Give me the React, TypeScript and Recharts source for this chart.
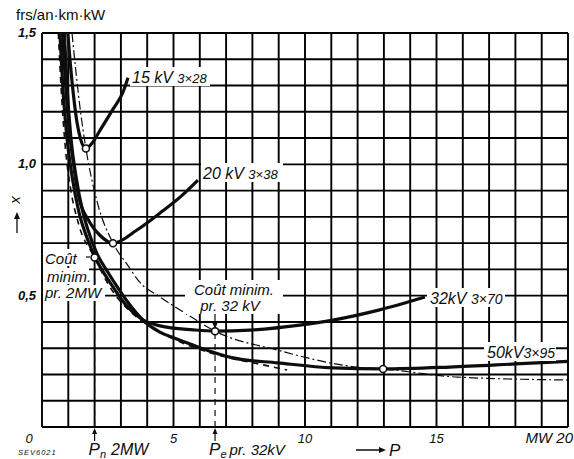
import React from "react";
import {
  LineChart,
  Line,
  XAxis,
  YAxis,
  CartesianGrid,
  ReferenceDot,
  ReferenceLine,
} from "recharts";

// P in MW, cost x in frs/an·km·kW
const P_15KV = [0.98, 1.08, 1.2, 1.33, 1.47, 1.67, 1.9, 2.21, 2.7, 3.08, 3.27];
const X_15KV = [1.5, 1.38, 1.26, 1.16, 1.095, 1.06, 1.08, 1.13, 1.21, 1.275, 1.33];

const P_20KV = [0.78, 0.9, 1.05, 1.2, 1.37, 1.83, 2.2, 2.7, 3.61, 4.49, 5.25, 5.93];
const X_20KV = [1.5, 1.3, 1.12, 1.0, 0.89, 0.777, 0.73, 0.7, 0.75, 0.815, 0.875, 0.94];

const P_32KV = [0.68, 0.8, 0.95, 1.15, 1.4, 1.75, 2.1, 2.59, 3.23, 3.73, 3.99, 4.49, 5.74, 6.58, 7.9, 9.8, 11.06, 12.8, 14.56];
const X_32KV = [1.5, 1.28, 1.1, 0.95, 0.82, 0.71, 0.63, 0.55, 0.46, 0.415, 0.4, 0.385, 0.37, 0.365, 0.369, 0.388, 0.407, 0.445, 0.495];

const P_50KV = [0.85, 0.95, 1.1, 1.3, 1.55, 1.75, 2.09, 2.5, 2.85, 3.3, 3.84, 4.5, 5.0, 5.74, 6.5, 7.26, 8.97, 11.06, 12.97, 15.5, 18, 20];
const X_50KV = [1.5, 1.3, 1.1, 0.95, 0.82, 0.75, 0.66, 0.59, 0.535, 0.47, 0.407, 0.36, 0.34, 0.312, 0.285, 0.263, 0.244, 0.225, 0.221, 0.228, 0.24, 0.25];

// dashed: minimum cost envelope
const P_DASH = [0.62, 0.75, 0.9, 1.1, 1.4, 2.0, 2.6, 3.3, 4.0, 5.0, 6.0, 7.26, 7.9, 9.32];
const X_DASH = [1.5, 1.25, 1.05, 0.9, 0.77, 0.645, 0.53, 0.445, 0.39, 0.335, 0.295, 0.26, 0.247, 0.217];

// dash-dot: locus through the minima
const P_DOTDASH = [1.14, 1.44, 1.67, 2.09, 2.7, 3.23, 3.73, 4.49, 5.74, 6.58, 8.94, 11.98, 12.97, 15.8, 20];
const X_DOTDASH = [1.5, 1.22, 1.06, 0.86, 0.7, 0.62, 0.55, 0.495, 0.415, 0.365, 0.293, 0.228, 0.221, 0.19, 0.179];

const MIN_P = [1.67, 2.7, 6.58, 12.97];
const MIN_X = [1.06, 0.7, 0.365, 0.221];

const PN = 2; // P_n 2 MW
const PN_X = 0.645;
const PE = 6.58; // P_e pr. 32 kV
const PE_X = 0.365;

const X_LABEL_TICKS = [0, 5, 10, 15, 20];
const Y_LABEL_TICKS = [0.5, 1, 1.5];
const GRID_P = [0, 1, 2, 3, 4, 5, 6, 7, 8, 9, 10, 11, 12, 13, 14, 15, 16, 17, 18, 19, 20];
const GRID_X = [0, 0.1, 0.2, 0.3, 0.4, 0.5, 0.6, 0.7, 0.8, 0.9, 1.0, 1.1, 1.2, 1.3, 1.4, 1.5];

const rows = (ps: number[], xs: number[]) => ps.map((p, i) => ({ p, x: xs[i] }));

const INK = "#0d0d0d";
const FONT = "'Liberation Sans', Arial, sans-serif";
const PE_LINE_X = 215;

function XTick(props: any) {
  const { x, payload } = props;
  const v = payload.value;
  const t = { fontFamily: FONT, fontStyle: "italic", fill: INK } as const;
  if (v === PN || v === PE) {
    return (
      <g>
        <line x1={x} y1={431} x2={x} y2={441} stroke={INK} strokeWidth={1.2} />
        <polygon points={`${x - 2.5},${434} ${x + 2.5},${434} ${x},${428}`} fill={INK} />
        <text x={x - 6} y={455} fontSize={17} {...t}>
          P
          <tspan fontSize={11} dy={3}>{v === PN ? "n" : "e"}</tspan>
          <tspan fontSize={v === PN ? 16 : 15} dy={-3} dx={v === PN ? 5 : 3}>
            {v === PN ? "2MW" : "pr. 32kV"}
          </tspan>
        </text>
      </g>
    );
  }
  if (v === 0) {
    return <text x={x - 13} y={443} fontSize={13} textAnchor="middle" {...t}>0</text>;
  }
  if (v === 20) {
    return <text x={x + 5} y={443} fontSize={15} textAnchor="end" {...t}>MW 20</text>;
  }
  return <text x={x} y={443} fontSize={13} textAnchor="middle" {...t}>{v}</text>;
}

function YTick(props: any) {
  const { y, payload } = props;
  return (
    <text x={36} y={y + 4} fontSize={13} fontWeight="bold" textAnchor="end"
      fontFamily={FONT} fontStyle="italic" fill={INK}>
      {payload.value.toFixed(1).replace(".", ",")}
    </text>
  );
}

function Label({ x, y, w, h, children }: any) {
  return (
    <g>
      <rect x={x} y={y} width={w} height={h} fill="#fff" />
      {children}
    </g>
  );
}

export default function App() {
  const curveProps = {
    dataKey: "x",
    stroke: INK,
    dot: false,
    activeDot: false,
    isAnimationActive: false,
    type: "monotone" as const,
  };
  const txt = { fontFamily: FONT, fontStyle: "italic", fill: INK } as const;
  return (
    <div style={{ position: "relative", width: 574, height: 459, background: "#fff" }}>
      <style>{"body{margin:0}"}</style>
      <LineChart width={574} height={459} margin={{ top: 33, right: 6, left: 0, bottom: 0 }}>
        <CartesianGrid
          stroke="#000"
          strokeWidth={1.9}
          strokeOpacity={1}
          verticalValues={GRID_P}
          horizontalValues={GRID_X}
        />
        <XAxis
          dataKey="p"
          type="number"
          domain={[0, 20]}
          ticks={[...X_LABEL_TICKS, PN, PE]}
          interval={0}
          height={32}
          axisLine={false}
          tickLine={false}
          tick={XTick}
          allowDataOverflow
        />
        <YAxis
          type="number"
          domain={[0, 1.5]}
          ticks={Y_LABEL_TICKS}
          width={42}
          axisLine={false}
          tickLine={false}
          tick={YTick}
          allowDataOverflow
        />
        <ReferenceLine segment={[{ x: PN, y: 0 }, { x: PN, y: PN_X }]} stroke={INK} strokeWidth={1.2} strokeDasharray="6 5" />
        <ReferenceLine segment={[{ x: PE, y: 0 }, { x: PE, y: PE_X }]} stroke={INK} strokeWidth={1.2} strokeDasharray="6 5" />
        <Line {...curveProps} data={rows(P_DOTDASH, X_DOTDASH)} strokeWidth={1.2} strokeDasharray="9 3 2 3" />
        <Line {...curveProps} data={rows(P_DASH, X_DASH)} strokeWidth={1.6} strokeDasharray="6 5" />
        <Line {...curveProps} data={rows(P_15KV, X_15KV)} strokeWidth={3.2} />
        <Line {...curveProps} data={rows(P_20KV, X_20KV)} strokeWidth={3.2} />
        <Line {...curveProps} data={rows(P_32KV, X_32KV)} strokeWidth={3.2} />
        <Line {...curveProps} data={rows(P_50KV, X_50KV)} strokeWidth={3.2} />
        {MIN_P.map((p, i) => (
          <ReferenceDot key={p} x={p} y={MIN_X[i]} r={3.5} fill="#fff" stroke={INK} strokeWidth={1.5} />
        ))}
        <ReferenceDot x={PN} y={PN_X} r={3.5} fill="#fff" stroke={INK} strokeWidth={1.5} />
      </LineChart>

      <svg width={574} height={459} style={{ position: "absolute", left: 0, top: 0, pointerEvents: "none" }}>
        <text x={16} y={20} fontSize={15} {...txt} fontStyle="normal">frs/an·km·kW</text>

        <text x={20} y={200} fontSize={15} {...txt} transform="rotate(-90 20 200)" textAnchor="middle">x</text>
        <line x1={17} y1={233} x2={17} y2={217} stroke={INK} strokeWidth={1.3} />
        <polygon points="14,219 20,219 17,212" fill={INK} />

        <text x={18} y={455} fontSize={7.5} letterSpacing={1} {...txt}>SEV6021</text>
        <line x1={356} y1={450} x2={380} y2={450} stroke={INK} strokeWidth={1.5} />
        <polygon points="379,447 379,453 386,450" fill={INK} />
        <text x={389} y={456} fontSize={17} {...txt}>P</text>

        <Label x={130} y={67} w={80} h={19}>
          <text x={132} y={83} fontSize={16} {...txt}>15 kV <tspan fontSize={13}>3×28</tspan></text>
        </Label>
        <Label x={201} y={163} w={82} h={19}>
          <text x={203} y={179} fontSize={16} {...txt}>20 kV <tspan fontSize={13}>3×38</tspan></text>
        </Label>
        <Label x={427} y={288} w={78} h={19}>
          <text x={430} y={304} fontSize={16} {...txt}>32kV <tspan fontSize={14}>3×70</tspan></text>
        </Label>
        <Label x={484} y={342} w={72} h={19}>
          <text x={487} y={358} fontSize={16} {...txt}>50kV<tspan fontSize={14}>3×95</tspan></text>
        </Label>

        <Label x={185} y={280} w={98} h={34}>
          <text x={234} y={295} fontSize={15} textAnchor="middle" {...txt}>Coût minim.</text>
          <text x={230} y={311} fontSize={15} textAnchor="middle" {...txt}>pr. 32 kV</text>
        </Label>
        <line x1={PE_LINE_X} y1={314} x2={PE_LINE_X} y2={324} stroke={INK} strokeWidth={1.2} />
        <polygon points={`${PE_LINE_X - 2.5},323 ${PE_LINE_X + 2.5},323 ${PE_LINE_X},329`} fill={INK} />

        <Label x={43} y={249} w={45} h={17}>
          <text x={45} y={264} fontSize={15} {...txt}>Coût</text>
        </Label>
        <line x1={86} y1={257} x2={90} y2={257} stroke={INK} strokeWidth={1.2} />
        <Label x={43} y={268} w={46} h={16}>
          <text x={47} y={282} fontSize={15} {...txt}>minim.</text>
        </Label>
        <Label x={43} y={285} w={62} h={16}>
          <text x={45} y={298} fontSize={15} {...txt}>pr. 2MW</text>
        </Label>
      </svg>
    </div>
  );
}
